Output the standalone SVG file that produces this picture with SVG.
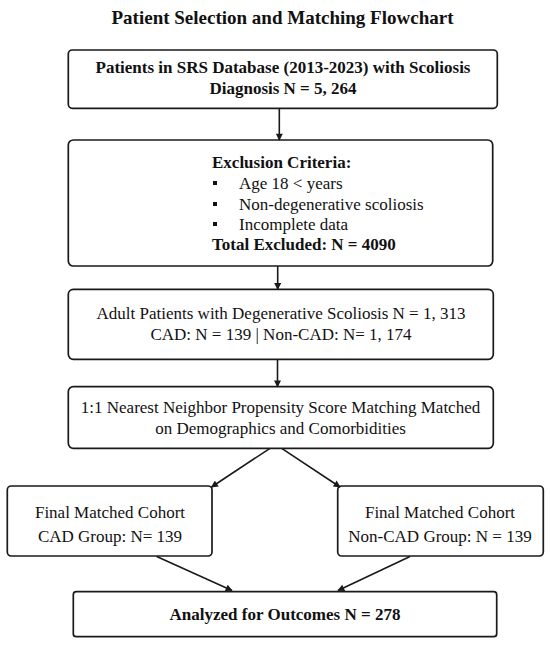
<svg xmlns="http://www.w3.org/2000/svg" width="550" height="647" viewBox="0 0 550 647">
<defs>
<style>
.box{fill:#fff;stroke:#1a1a1a;stroke-width:1.7}
.t{font-family:"Liberation Serif","Times New Roman",serif;font-size:17px;fill:#111}
.c{text-anchor:middle}
.b{font-weight:bold}
.ln{stroke:#1a1a1a;stroke-width:1.6;fill:none}
</style>
<marker id="ah" viewBox="0 0 10 10" refX="9" refY="5" markerWidth="8" markerHeight="7" markerUnits="userSpaceOnUse" orient="auto">
<path d="M0,0 L10,5 L0,10 z" fill="#1a1a1a"/>
</marker>
</defs>
<rect width="550" height="647" fill="#fff"/>
<text id="title" class="t c b" x="282.5" y="24" style="font-size:19px">Patient Selection and Matching Flowchart</text>
<g id="n1">
<rect class="box" x="68.3" y="50" width="429" height="58.3" rx="4"/>
<text class="t c b" x="283" y="73">Patients in SRS Database (2013-2023) with Scoliosis</text>
<text class="t c b" x="283" y="94">Diagnosis N = 5, 264</text>
</g>
<g id="n2">
<rect class="box" x="68.3" y="140" width="424.4" height="126" rx="5"/>
<text class="t b" x="212" y="168">Exclusion Criteria:</text>
<rect x="213" y="181" width="4" height="4" fill="#111"/>
<text class="t" x="239" y="189">Age 18 &lt; years</text>
<rect x="213" y="202" width="4" height="4" fill="#111"/>
<text class="t" x="239" y="210">Non-degenerative scoliosis</text>
<rect x="213" y="222" width="4" height="4" fill="#111"/>
<text class="t" x="239" y="230">Incomplete data</text>
<text class="t b" x="212" y="250">Total Excluded: N = 4090</text>
</g>
<g id="n3">
<rect class="box" x="68.3" y="289.3" width="425" height="70" rx="5"/>
<text class="t c" x="281" y="319">Adult Patients with Degenerative Scoliosis N = 1, 313</text>
<text class="t c" x="281" y="340">CAD: N = 139 | Non-CAD: N= 1, 174</text>
</g>
<g id="n4">
<rect class="box" x="68.3" y="386.7" width="425" height="61.6" rx="5"/>
<text class="t c" x="280.5" y="413">1:1 Nearest Neighbor Propensity Score Matching Matched</text>
<text class="t c" x="280.5" y="434">on Demographics and Comorbidities</text>
</g>
<g id="n5">
<rect class="box" x="7.3" y="486" width="204.7" height="70" rx="4"/>
<text class="t c" x="110" y="518">Final Matched Cohort</text>
<text class="t c" x="110" y="542">CAD Group: N= 139</text>
</g>
<g id="n6">
<rect class="box" x="337.7" y="486" width="205.6" height="70" rx="4"/>
<text class="t c" x="440" y="518">Final Matched Cohort</text>
<text class="t c" x="440" y="542">Non-CAD Group: N = 139</text>
</g>
<g id="n7">
<rect class="box" x="73.3" y="591.7" width="423.4" height="45" rx="3"/>
<text class="t c b" x="285" y="620">Analyzed for Outcomes N = 278</text>
</g>
<g id="connectors">
<line class="ln" x1="279.3" y1="108.3" x2="279.3" y2="140" marker-end="url(#ah)"/>
<line class="ln" x1="277.7" y1="266" x2="277.7" y2="289.3" marker-end="url(#ah)"/>
<line class="ln" x1="277.5" y1="359.3" x2="277.5" y2="386.7" marker-end="url(#ah)"/>
<line class="ln" x1="270" y1="448.3" x2="211.5" y2="487" marker-end="url(#ah)"/>
<line class="ln" x1="281.7" y1="448.3" x2="340" y2="487" marker-end="url(#ah)"/>
<line class="ln" x1="156.7" y1="556.5" x2="232" y2="590.5" marker-end="url(#ah)"/>
<line class="ln" x1="410" y1="556.5" x2="338" y2="590.5" marker-end="url(#ah)"/>
</g>
</svg>
